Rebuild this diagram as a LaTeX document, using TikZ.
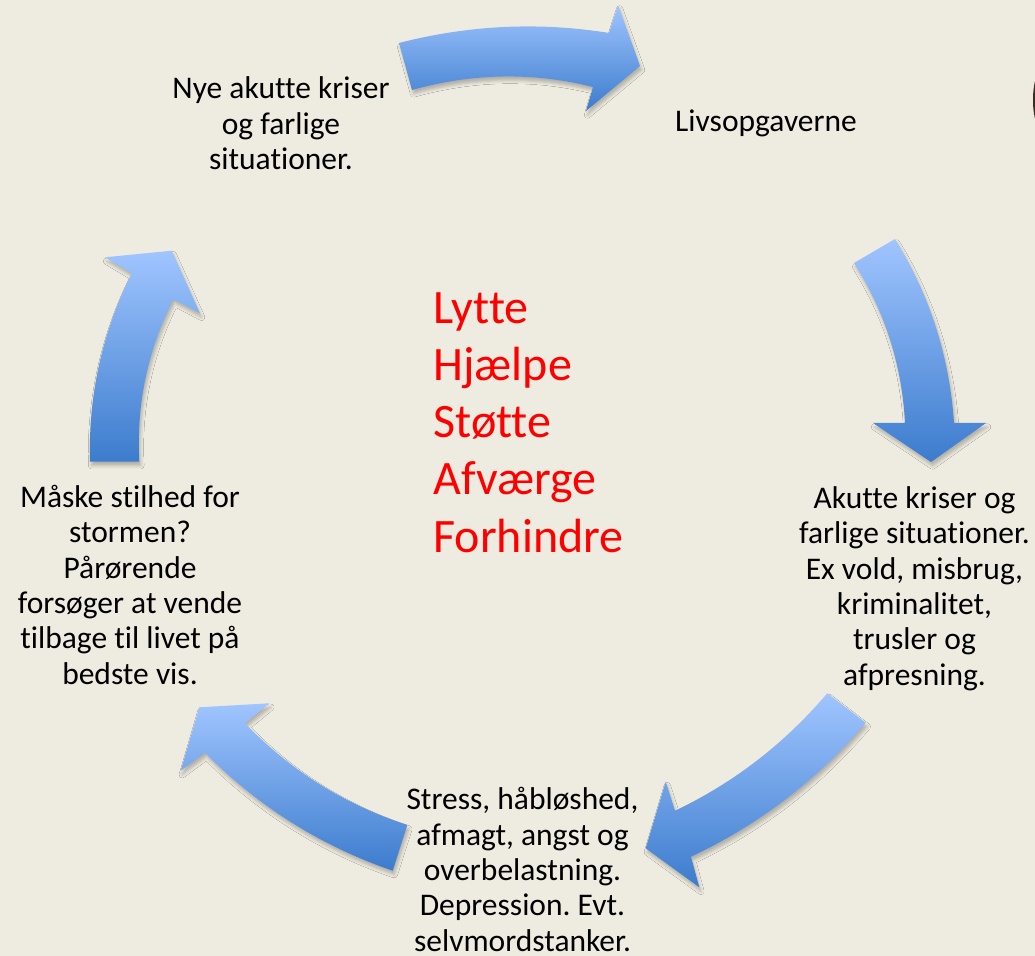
\documentclass[tikz,border=0pt]{standalone}
\usepackage{fontspec}
\setmainfont[Ligatures=NoCommon]{Carlito}
\usetikzlibrary{shadows.blur}
\definecolor{bg}{RGB}{238,235,224}
\definecolor{atop}{RGB}{160,197,255}
\definecolor{abot}{RGB}{60,124,205}
\definecolor{edgebrown}{RGB}{60,45,35}
\newcommand{\tstrut}{\rule{0pt}{1em}}
\frenchspacing
\begin{document}
\begin{tikzpicture}[x=0.5pt,y=-0.5pt,
  arrowshape/.style={top color=atop, bottom color=abot, draw=none,
    blur shadow={shadow xshift=0.8pt, shadow yshift=-2pt, shadow blur radius=1.6pt, shadow opacity=25}},
  lbl/.style={inner sep=0pt, anchor=north, align=center, text=black, font=\fontsize{15.75}{17.65}\selectfont},
  redlbl/.style={inner sep=0pt, anchor=north west, align=left, text=red, font=\fontsize{24}{28.65}\selectfont}]
\fill[bg] (0,0) rectangle (1035,956);
\useasboundingbox (0,0) rectangle (1035,956);
\begin{scope}
\clip (0,0) rectangle (1035,956);
\fill[edgebrown] (1045,100) ellipse [x radius=6pt, y radius=17pt];
\end{scope}
% arrows
\path[arrowshape] (399,43) .. controls (469,25) and (539,21.7) .. (609,33) -- (618,5) -- (640,66) -- (586,111) -- (593,87) .. controls (533.3,72) and (473,73) .. (412,90) -- cycle;
\path[arrowshape] (895,239) .. controls (929.9,295.4) and (949.5,356.7) .. (954,423) -- (986,423) -- (931,462) -- (873,423) -- (905,423) .. controls (902,365.3) and (885,311.9) .. (854,263) -- cycle;
\path[arrowshape] (865.7,722.7) .. controls (817.3,780) and (759,824.7) .. (691,856.7) -- (699.3,887.3) -- (645.7,848.3) -- (665.7,781.7) -- (675,810.7) .. controls (733.6,782.9) and (784.3,743.8) .. (827.3,693.3) -- cycle;
\path[arrowshape] (392.7,870.7) .. controls (320.9,846) and (258.3,806.7) .. (205,752.7) -- (180.7,770.7) -- (199.3,707.3) -- (269.3,703.3) -- (245,723.3) .. controls (290.6,770.7) and (344.7,804.6) .. (407.3,825) -- cycle;
\path[arrowshape] (90,461.7) .. controls (88.2,395.4) and (102.1,332.6) .. (131.7,273.3) -- (105,257.3) -- (171.7,250.7) -- (200,313.3) -- (173.3,299.3) .. controls (147.6,350.4) and (136.2,404.5) .. (139.3,461.7) -- cycle;
% labels
\node[lbl] (nye) at (281,67) {\tstrut Nye akutte kriser\\og farlige\\situationer.};
\node[lbl] (liv) at (766,99.5) {\tstrut Livsopgaverne};
\node[lbl] (akut) at (914.5,476.8) {\tstrut Akutte kriser og\\farlige situationer.\\Ex vold, misbrug,\\kriminalitet,\\trusler og\\afpresning.};
\node[lbl] (stress) at (522.5,778) {\tstrut Stress, håbløshed,\\afmagt, angst og\\overbelastning.\\Depression. Evt.\\selvmordstanker.};
\node[lbl] (maaske) at (130,475.8) {\tstrut Måske stilhed for\\stormen?\\Pårørende\\forsøger at vende\\tilbage til livet på\\bedste vis.};
\node[redlbl] (midt) at (433,274.7) {\tstrut Lytte\\Hjælpe\\Støtte\\Afværge\\Forhindre};
\end{tikzpicture}
\end{document}
